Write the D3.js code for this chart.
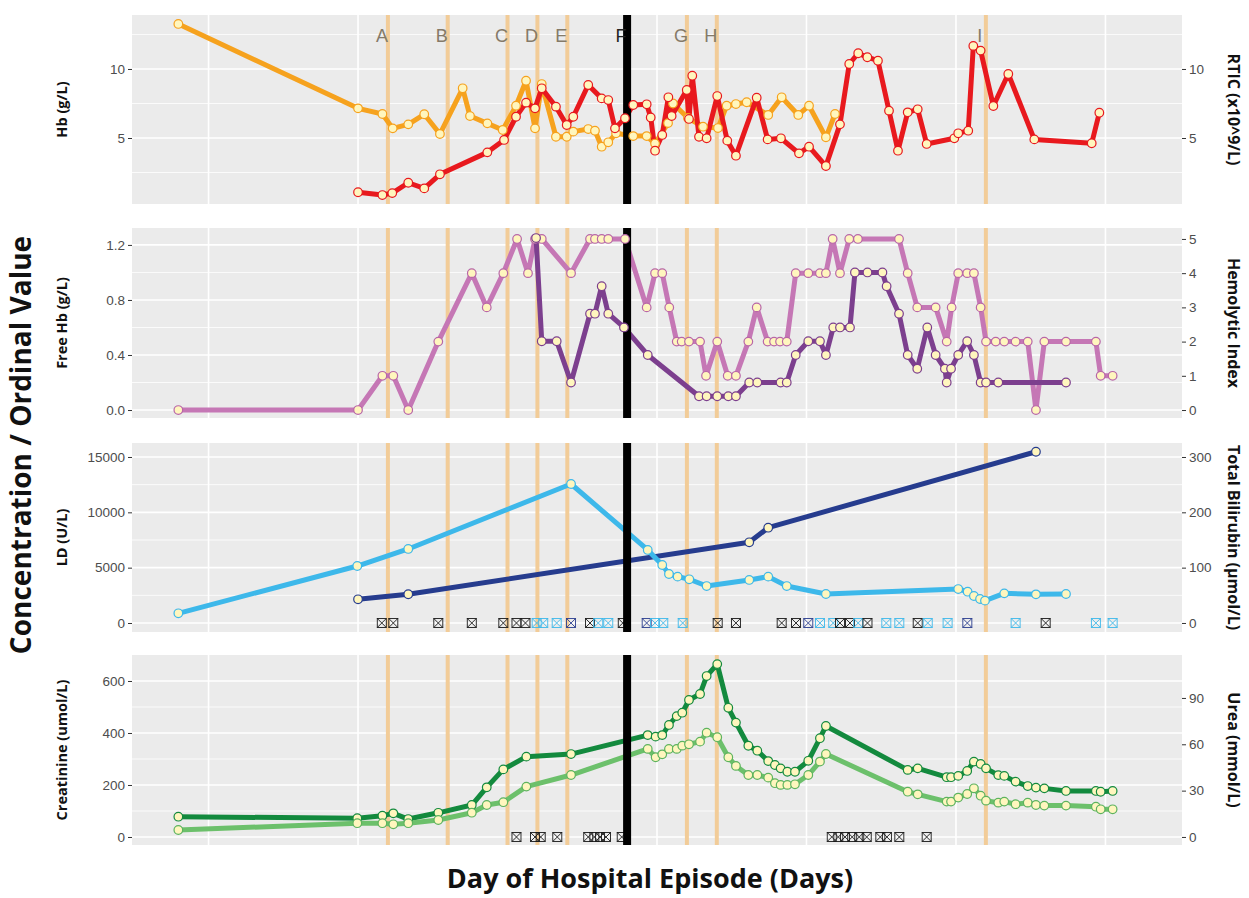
<!DOCTYPE html>
<html>
<head>
<meta charset="utf-8">
<script src="https://cdn.jsdelivr.net/npm/d3@7/dist/d3.min.js"></script>
<style>
  body { margin: 0; background: #fff; }
  .tick text { font-family: "Liberation Sans", Arial, sans-serif; font-size: 13.5px; fill: #4d4d4d; }
  .title { font-family: "Open Sans", "Noto Sans", sans-serif; font-weight: 700; fill: #111; }
</style>
</head>
<body>
<svg width="1249" height="898"></svg>
<script>
// days relative to the start of the dense sampling; value pairs [day, value]
const hb = [[-12.02,13.26],[0,7.15],[1.63,6.74],[2.32,5.70],[3.36,5.99],[4.43,6.72],[5.48,5.29],[7.00,8.6],[7.49,6.59],[8.65,6.06],[9.68,5.58],[10.57,7.34],[11.24,9.15],[11.84,5.70],[12.29,8.91],[13.24,5.09],[13.96,5.09],[14.40,5.46],[15.40,5.65],[15.85,5.53],[16.30,4.37],[16.74,4.69],[17.26,5.34],[18.41,5.14],[19.31,5.14],[19.87,4.6],[20.74,6.08],[21.07,7.5],[22.07,6.45],[23.08,5.82],[24.08,5.72],[24.66,7.34],[25.28,7.46],[26.00,7.59],[27.44,6.67],[28.34,7.95],[29.45,6.67],[30.17,7.34],[31.30,5.05],[31.91,6.74]];

const rtic = [[0,1.07],[1.63,0.87],[2.29,1.01],[3.36,1.76],[4.43,1.35],[5.48,2.37],[8.65,3.96],[9.77,4.86],[10.57,6.54],[11.24,7.56],[11.84,7.15],[12.29,8.6],[13.24,7.27],[13.96,5.94],[14.40,6.54],[15.40,8.84],[16.30,7.87],[16.74,7.75],[17.19,5.70],[17.86,6.43],[18.41,7.39],[19.31,7.44],[19.58,6.49],[19.87,4.08],[20.35,5.22],[20.76,7.95],[20.98,6.59],[21.99,8.48],[22.14,6.38],[22.36,9.51],[22.81,5.09],[23.32,4.98],[24.03,8.04],[24.70,4.81],[25.28,3.72],[26.67,7.92],[27.40,4.90],[28.29,4.98],[29.50,3.89],[30.17,4.37],[31.30,2.97],[32.24,5.99],[32.86,10.36],[33.46,11.14],[34.07,10.85],[34.78,10.6],[35.52,6.98],[36.12,4.08],[36.77,6.86],[37.44,7.08],[38.04,4.57],[39.89,4.98],[40.15,5.34],[40.82,5.53],[41.16,11.67],[41.65,11.33],[42.50,7.32],[43.50,9.64],[45.24,4.90],[49.08,4.62],[49.59,6.83]];

const hemolyticIndex = [[-12.02,0],[0,0],[1.63,1],[2.36,1],[3.36,0],[5.37,2],[7.61,4],[8.61,3],[9.72,4],[10.64,5],[11.37,4],[11.84,5],[12.29,5],[14.25,4],[15.52,5],[15.85,5],[16.30,5],[16.74,5],[17.86,5],[19.31,3],[19.87,4],[20.35,4],[20.82,3],[21.32,2],[21.65,2],[22.14,2],[22.88,2],[23.28,1],[24.03,2],[24.73,1],[25.28,1],[26.11,2],[26.67,3],[27.40,2],[27.83,2],[28.23,2],[28.68,2],[29.28,4],[30.12,4],[30.90,4],[31.30,4],[31.75,5],[32.24,4],[32.86,5],[33.44,5],[36.19,5],[36.77,4],[37.41,3],[38.64,3],[39.38,2],[39.71,3],[40.15,4],[40.75,4],[41.20,4],[41.65,3],[42.01,2],[42.66,2],[43.23,2],[43.99,2],[44.80,2],[45.35,0],[45.91,2],[47.36,2],[49.36,2],[49.68,1],[50.48,1]];

const freeHb = [[11.91,1.25],[12.29,0.5],[13.29,0.5],[14.25,0.2],[15.52,0.7],[15.85,0.7],[16.30,0.9],[16.74,0.7],[17.79,0.6],[19.38,0.4],[22.81,0.1],[23.32,0.1],[24.03,0.1],[24.77,0.1],[25.28,0.1],[26.17,0.2],[26.71,0.2],[28.27,0.2],[28.68,0.2],[29.28,0.4],[30.12,0.5],[30.90,0.5],[31.30,0.4],[31.79,0.6],[32.24,0.6],[32.91,0.6],[33.24,1.0],[34.08,1.0],[35.08,1.0],[35.36,0.9],[36.19,0.7],[36.77,0.4],[37.41,0.3],[38.08,0.6],[38.64,0.4],[39.26,0.3],[39.38,0.2],[39.67,0.3],[40.15,0.4],[40.75,0.5],[41.20,0.4],[41.65,0.2],[42.01,0.2],[42.83,0.2],[47.36,0.2]];

const ld = [[-12.02,876],[-0.05,5150],[3.36,6690],[14.25,12560],[19.38,6600],[20.35,5240],[20.80,4430],[21.38,4190],[22.16,3950],[23.32,3340],[26.17,3890],[27.44,4190],[28.68,3340],[31.30,2620],[40.15,3070],[40.78,2830],[41.20,2440],[41.61,2170],[41.94,2020],[43.23,2680],[45.35,2590],[47.36,2620]];

const bilirubin = [[0,42.8],[3.36,51.9],[26.17,145.8],[27.44,172.2],[45.35,309.5]];

// haemolysed / flagged samples shown as crossed boxes: [day, kind]
const ldFlags = [[1.59,"k"],[2.36,"k"],[5.37,"k"],[7.61,"k"],[9.72,"k"],[10.60,"k"],[11.20,"k"],[11.95,"lb"],[12.39,"lb"],[13.29,"lb"],[14.25,"nv"],[15.52,"k"],[16.07,"lb"],[16.74,"lb"],[17.71,"k"],[19.31,"nv"],[19.87,"lb"],[20.42,"lb"],[21.72,"lb"],[24.06,"k"],[25.28,"k"],[28.34,"k"],[29.30,"k"],[30.12,"nv"],[30.90,"lb"],[31.79,"lb"],[32.24,"k"],[32.91,"k"],[33.46,"lb"],[34.08,"k"],[35.34,"lb"],[36.21,"lb"],[37.44,"k"],[38.11,"lb"],[39.44,"lb"],[40.76,"nv"],[43.99,"lb"],[46.00,"k"],[49.36,"lb"],[50.48,"lb"]];

const renalFlags = [10.60,11.84,12.22,13.33,15.40,15.81,16.19,16.59,17.64,31.69,32.13,32.58,33.06,33.53,34.03,34.94,35.38,36.21,38.04];

const creatinine = [[-12.02,78],[-0.05,72],[1.63,82],[2.36,91],[3.36,69],[5.37,93],[7.61,123],[8.61,191],[9.72,260],[11.26,309],[14.25,319],[19.38,392],[19.91,386],[20.35,392],[20.80,431],[21.32,465],[21.69,478],[22.14,527],[22.88,550],[23.32,619],[24.03,665],[24.77,497],[25.28,440],[26.11,351],[26.71,332],[27.44,292],[27.89,277],[28.27,264],[28.72,251],[29.23,251],[30.12,293],[30.90,380],[31.30,427],[36.77,258],[37.44,264],[39.38,230],[39.67,230],[40.15,235],[40.75,254],[41.20,290],[41.65,281],[42.01,264],[42.83,238],[43.23,235],[43.99,213],[44.80,196],[45.35,190],[45.91,187],[47.36,177],[49.36,177],[49.68,174],[50.48,177]];

const urea = [[-12.02,4.5],[-0.05,8.9],[1.63,8.9],[2.36,8.2],[3.36,8.9],[5.37,11],[7.61,15.7],[8.61,20.7],[9.72,22.5],[11.26,32.6],[14.25,40.1],[19.38,57],[19.91,51.6],[20.35,53.5],[20.80,57],[21.32,57],[21.69,59.1],[22.14,60],[22.88,61.7],[23.32,67.5],[24.03,64.6],[24.77,51.6],[25.28,46],[26.11,40.1],[26.71,40.1],[27.44,38.4],[27.89,34.8],[28.27,33.7],[28.72,33.7],[29.23,34.1],[30.12,40.1],[30.90,48.8],[31.30,53.7],[36.77,29.3],[37.44,27.6],[39.38,22.9],[39.67,22.9],[40.15,25.5],[40.75,27.8],[41.20,31.5],[41.65,26.7],[42.01,23.5],[42.83,22.2],[43.23,22.9],[43.99,21.2],[44.80,22.2],[45.35,20.7],[45.91,20.3],[47.36,20.3],[49.36,19.6],[49.68,17.9],[50.48,17.9]];

const eventLabels = ["A","B","C","D","E","F","G","H","I"];
const eventDays = [2, 6, 10, 12, 14, 18, 22, 24, 42];

const svg = d3.select("svg");
const x = d3.scaleLinear().domain([-15.12, 55.12]).range([132, 1182]);
const xGrid = [-10, 0, 10, 20, 30, 40, 50];

const flagColor = { k: "#1a1a1a", lb: "#3DB8EA", nv: "#2B3E8F" };

const panels = [
  {
    top: 15, bottom: 204,
    yl: [0.22, 13.91], yr: [0.22, 13.91],
    lTicks: [5, 10], rTicks: [5, 10], grid: [2.5, 5, 7.5, 10, 12.5],
    lTitle: "Hb (g/L)", rTitle: "RTIC (x10^9/L)",
    series: [
      { data: hb, axis: "l", color: "#F6A21E", stroke: "#F6A21E" },
      { data: rtic, axis: "r", color: "#E8191E", stroke: "#E8191E" }
    ]
  },
  {
    top: 228, bottom: 418,
    yl: [-0.058, 1.323], yr: [-0.233, 5.32],
    lTicks: [0, 0.4, 0.8, 1.2], rTicks: [0, 1, 2, 3, 4, 5], grid: [0, 0.2, 0.4, 0.6, 0.8, 1.0, 1.2],
    lFmt: d3.format(".1f"),
    lTitle: "Free Hb (g/L)", rTitle: "Hemolytic Index",
    series: [
      { data: hemolyticIndex, axis: "r", color: "#C577B5", stroke: "#B866A8" },
      { data: freeHb, axis: "l", color: "#7C3F8E", stroke: "#7C3F8E" }
    ]
  },
  {
    top: 443, bottom: 632,
    yl: [-813, 16265], yr: [-16.3, 325.3],
    lTicks: [0, 5000, 10000, 15000], rTicks: [0, 100, 200, 300], grid: [0, 2500, 5000, 7500, 10000, 12500, 15000],
    lTitle: "LD (U/L)", rTitle: "Total Bilirubin (\u00b5mol/L)",
    flags: ldFlags.map(f => ({ day: f[0], color: flagColor[f[1]] })),
    series: [
      { data: bilirubin, axis: "r", color: "#263C8E", stroke: "#263C8E" },
      { data: ld, axis: "l", color: "#3DB8EA", stroke: "#3DB8EA" }
    ]
  },
  {
    top: 655, bottom: 845,
    yl: [-30.8, 700], yr: [-5.2, 117.8],
    lTicks: [0, 200, 400, 600], rTicks: [0, 30, 60, 90], grid: [0, 100, 200, 300, 400, 500, 600],
    lTitle: "Creatinine (umol/L)", rTitle: "Urea (mmol/L)",
    flags: renalFlags.map(d => ({ day: d, color: "#1a1a1a" })),
    series: [
      { data: creatinine, axis: "l", color: "#138A3E", stroke: "#138A3E" },
      { data: urea, axis: "r", color: "#6CC06B", stroke: "#5DB35E" }
    ]
  }
];

panels.forEach((p, pi) => {
  const yl = d3.scaleLinear().domain(p.yl).range([p.bottom, p.top]);
  const yr = d3.scaleLinear().domain(p.yr).range([p.bottom, p.top]);
  const g = svg.append("g");

  g.append("rect")
    .attr("x", x.range()[0]).attr("y", p.top)
    .attr("width", x.range()[1] - x.range()[0]).attr("height", p.bottom - p.top)
    .attr("fill", "#EBEBEB");

  // grid
  g.selectAll(".hg").data(p.grid).enter().append("line")
    .attr("x1", x.range()[0]).attr("x2", x.range()[1])
    .attr("y1", d => yl(d)).attr("y2", d => yl(d))
    .attr("stroke", "#fff")
    .attr("stroke-width", d => p.lTicks.includes(d) ? 1.6 : 0.8);
  g.selectAll(".vg").data(xGrid).enter().append("line")
    .attr("x1", d => x(d)).attr("x2", d => x(d))
    .attr("y1", p.top).attr("y2", p.bottom)
    .attr("stroke", "#fff").attr("stroke-width", 1.6);

  // event lines (orange), under the data
  eventDays.forEach((d, i) => {
    if (eventLabels[i] === "F") return;
    g.append("line")
      .attr("x1", x(d)).attr("x2", x(d))
      .attr("y1", p.top).attr("y2", p.bottom)
      .attr("stroke", "#F2CC98").attr("stroke-width", 4);
  });

  // axes
  const la = g.append("g").attr("transform", `translate(${x.range()[0]},0)`)
    .call(d3.axisLeft(yl).tickValues(p.lTicks).tickSize(4).tickPadding(3).tickFormat(p.lFmt || d3.format("d")));
  const ra = g.append("g").attr("transform", `translate(${x.range()[1]},0)`)
    .call(d3.axisRight(yr).tickValues(p.rTicks).tickSize(4).tickPadding(3).tickFormat(d3.format("d")));
  [la, ra].forEach(a => {
    a.select(".domain").remove();
    a.selectAll(".tick line").attr("stroke", "#333");
  });

  const mid = (p.top + p.bottom) / 2;
  g.append("text").attr("class", "title")
    .attr("transform", `translate(67,${mid}) rotate(-90)`)
    .attr("text-anchor", "middle").attr("font-size", 14.5)
    .text(p.lTitle);
  g.append("text").attr("class", "title")
    .attr("transform", `translate(1228,${mid}) rotate(90)`)
    .attr("text-anchor", "middle").attr("font-size", 16)
    .text(p.rTitle);

  // flagged samples
  if (p.flags) {
    const fy = yl(0);
    const fg = g.selectAll(".flag").data(p.flags).enter().append("g")
      .attr("transform", d => `translate(${x(d.day)},${fy})`)
      .attr("stroke", d => d.color).attr("fill", "none").attr("stroke-width", 0.9);
    fg.append("rect").attr("x", -4.5).attr("y", -4.5).attr("width", 9).attr("height", 9);
    fg.append("path").attr("d", "M-4.5,-4.5L4.5,4.5M4.5,-4.5L-4.5,4.5");
  }

  // lines
  p.series.forEach(s => {
    const y = s.axis === "l" ? yl : yr;
    g.append("path").datum(s.data)
      .attr("fill", "none").attr("stroke", s.color).attr("stroke-width", 5)
      .attr("stroke-linejoin", "round").attr("stroke-linecap", "round")
      .attr("d", d3.line().x(d => x(d[0])).y(d => y(d[1])));
  });

  // black event line F over the lines
  g.append("line")
    .attr("x1", x(eventDays[5])).attr("x2", x(eventDays[5]))
    .attr("y1", p.top).attr("y2", p.bottom)
    .attr("stroke", "#000").attr("stroke-width", 8);

  // points
  p.series.forEach(s => {
    const y = s.axis === "l" ? yl : yr;
    g.selectAll(null).data(s.data).enter().append("circle")
      .attr("cx", d => x(d[0])).attr("cy", d => y(d[1])).attr("r", 4.3)
      .attr("fill", "#FFF6BE").attr("stroke", s.stroke).attr("stroke-width", 1.2);
  });

  // event letters in the top panel
  if (pi === 0) {
    g.selectAll(".ev").data(eventDays).enter().append("text")
      .attr("x", d => x(d) - 6).attr("y", 42)
      .attr("text-anchor", "middle")
      .attr("font-family", "'Liberation Sans', Arial, sans-serif").attr("font-size", 18)
      .attr("fill", (d, i) => eventLabels[i] === "F" ? "#222" : "#857a68")
      .text((d, i) => eventLabels[i]);
  }
});

svg.append("text").attr("class", "title")
  .attr("transform", "translate(31,445) rotate(-90)")
  .attr("text-anchor", "middle").attr("font-size", 28)
  .text("Concentration / Ordinal Value");

svg.append("text").attr("class", "title")
  .attr("x", 650).attr("y", 888)
  .attr("text-anchor", "middle").attr("font-size", 27)
  .text("Day of Hospital Episode (Days)");
</script>
</body>
</html>
